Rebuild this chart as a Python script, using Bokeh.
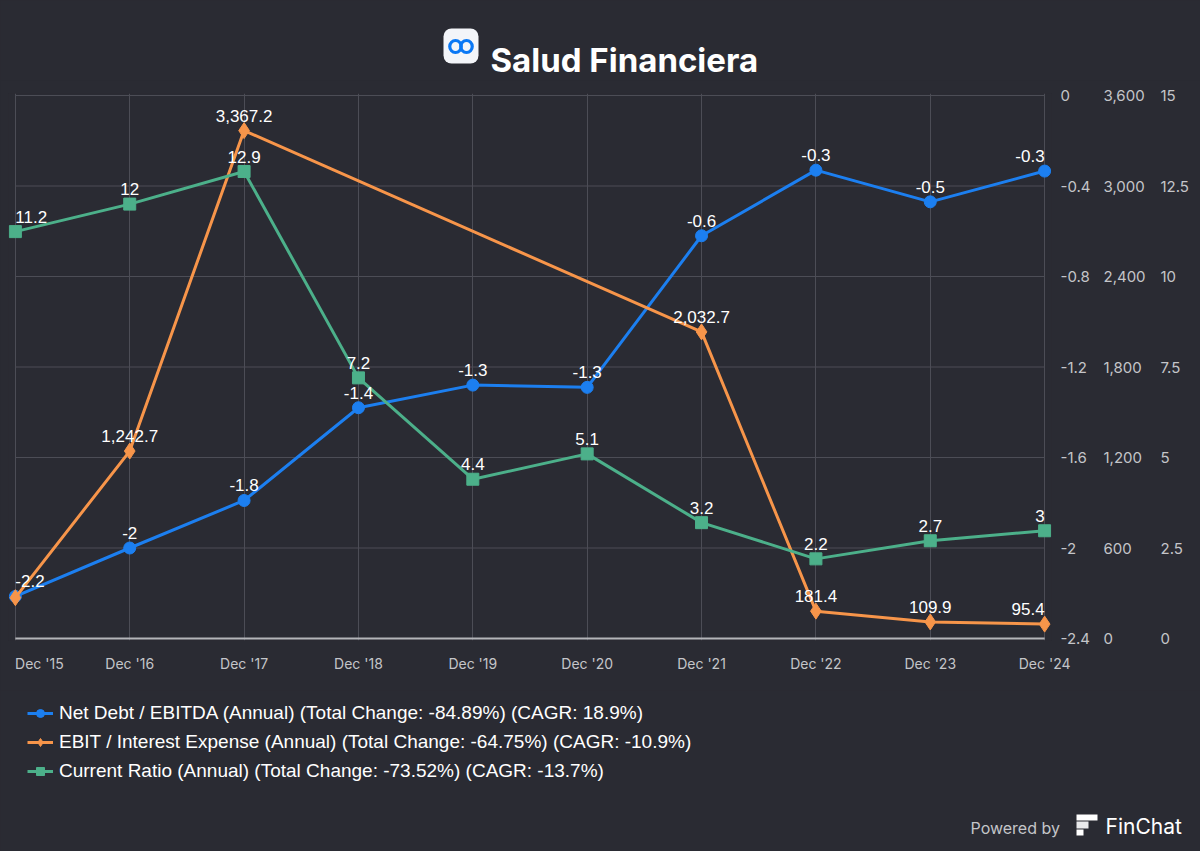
from bokeh.plotting import figure
from bokeh.layouts import column
from bokeh.models import (Range1d, LinearAxis, FixedTicker, Label, Legend, LegendItem,
                          ColumnDataSource, BoxAnnotation)
from bokeh.embed import file_html
from bokeh.resources import INLINE
from bokeh.core.properties import value

# ---------------- data ----------------
categories = ["Dec '15", "Dec '16", "Dec '17", "Dec '18", "Dec '19",
              "Dec '20", "Dec '21", "Dec '22", "Dec '23", "Dec '24"]
net_debt_ebitda = [-2.214, -2.0, -1.79, -1.38, -1.28, -1.29, -0.62, -0.33, -0.47, -0.334]
ebit_interest = [270.6, 1242.7, 3367.2, None, None, None, 2032.7, 181.4, 109.9, 95.4]
ebit_label_shown = [False, True, True, True, True, True, True, True, True, True]
current_ratio = [11.24, 12.0, 12.9, 7.2, 4.4, 5.1, 3.2, 2.2, 2.7, 2.976]

nd_ticks = [-2.4, -2.0, -1.6, -1.2, -0.8, -0.4, 0.0]
nd_tick_labels = ["-2.4", "-2", "-1.6", "-1.2", "-0.8", "-0.4", "0"]
ebit_ticks = [0, 600, 1200, 1800, 2400, 3000, 3600]
ebit_tick_labels = ["0", "600", "1,200", "1,800", "2,400", "3,000", "3,600"]
cr_ticks = [0, 2.5, 5, 7.5, 10, 12.5, 15]
cr_tick_labels = ["0", "2.5", "5", "7.5", "10", "12.5", "15"]

legend_labels = [
    "Net Debt / EBITDA (Annual) (Total Change: -84.89%) (CAGR: 18.9%)",
    "EBIT / Interest Expense (Annual) (Total Change: -64.75%) (CAGR: -10.9%)",
    "Current Ratio (Annual) (Total Change: -73.52%) (CAGR: -13.7%)",
]
title_text = "Salud Financiera"
footer_text = "Powered by"
brand_text = "FinChat"

# ---------------- style ----------------
BG = "#2a2b33"
GRID = "#4c4d56"
AXIS_LINE = "#b4b5b9"
TICK_TXT = "#c4c5c9"
BLUE = "#1c7ff0"
ORANGE = "#f7954a"
GREEN = "#4cb08a"
LABEL_FONT = "Liberation Sans"
UI_FONT = "Inter"
W = 1200
TOP_H, MAIN_H, BOT_H = 80, 610, 161
BG_STYLE = {"background-color": BG}

n = len(categories)
xs = list(range(n))
PADF = 2.0 / 543.0   # ~2px padding top and bottom of the plotting frame
XPAD = 0.06
FIRST_LABEL_SHIFT = 0.21   # keeps the first x label inside the page


def padded(lo, hi):
    span = hi - lo
    return Range1d(lo - span * PADF, hi + span * PADF)


def fmt(v):
    s = f"{v:,.1f}"
    if s.endswith(".0"):
        s = s[:-2]
    return s


def blank(height):
    f = figure(width=W, height=height, output_backend="svg", toolbar_location=None,
               x_range=Range1d(0, W), y_range=Range1d(height, 0),
               x_axis_type=None, y_axis_type=None, frame_align=False,
               background_fill_color=BG, border_fill_color=BG, styles=BG_STYLE,
               min_border_left=0, min_border_right=0, min_border_top=0, min_border_bottom=0)
    f.outline_line_color = None
    return f


# ---------------- header ----------------
top = blank(TOP_H)
top.add_layout(BoxAnnotation(left=443, right=478, top=28, bottom=63, fill_color="#f3f5f9",
                             fill_alpha=1, line_color=None, border_radius=8, level="underlay"))
top.ellipse(x=[455, 466], y=[46, 46], width=11.5, height=12, fill_color=None,
            line_color="#0a78f5", line_width=3.2)
top.add_layout(Label(x=490, y=59, text=title_text, text_align="left",
                     text_baseline="alphabetic", text_font=UI_FONT, text_font_size="33px",
                     text_font_style="bold", text_color="#ffffff"))

# ---------------- main chart ----------------
p = figure(width=W, height=MAIN_H, output_backend="svg", toolbar_location=None,
           x_range=Range1d(-XPAD, n - 1 + XPAD),
           y_range=padded(nd_ticks[0], nd_ticks[-1]),
           y_axis_location="right", frame_align=False,
           background_fill_color=BG, border_fill_color=BG, styles=BG_STYLE,
           min_border_left=8, min_border_right=149,
           min_border_top=13, min_border_bottom=50)
p.outline_line_color = None
p.extra_y_ranges = {
    "ebit": padded(ebit_ticks[0], ebit_ticks[-1]),
    "cr": padded(cr_ticks[0], cr_ticks[-1]),
}

p.ygrid.visible = False
p.xgrid.ticker = FixedTicker(ticks=xs)
p.xgrid.grid_line_color = GRID
p.xgrid.grid_line_width = 1

grid_colors = [AXIS_LINE] + [GRID] * (len(nd_ticks) - 1)
grid_widths = [2] + [1] * (len(nd_ticks) - 1)
p.segment(x0=[xs[0]] * len(nd_ticks), x1=[xs[-1]] * len(nd_ticks),
          y0=nd_ticks, y1=nd_ticks, line_color=grid_colors, line_width=grid_widths)

xa = p.xaxis[0]
label_ticks = [xs[0] + FIRST_LABEL_SHIFT] + xs[1:]
xa.ticker = FixedTicker(ticks=label_ticks)
xa.major_label_overrides = {t: c for t, c in zip(label_ticks, categories)}
xa.axis_line_color = None
xa.major_tick_line_color = None
xa.major_tick_out = 8
xa.major_tick_in = 0
xa.minor_tick_line_color = None
xa.major_label_standoff = 6
xa.major_label_text_font = UI_FONT
xa.major_label_text_font_size = "14px"
xa.major_label_text_color = TICK_TXT


def style_y(ax, ticks, labels, standoff):
    ax.ticker = FixedTicker(ticks=ticks)
    ax.major_label_overrides = {t: l for t, l in zip(ticks, labels)}
    ax.axis_line_color = None
    ax.major_tick_line_color = None
    ax.minor_tick_line_color = None
    ax.major_tick_out = 0
    ax.major_tick_in = 0
    ax.major_label_standoff = standoff
    ax.major_label_text_font = UI_FONT
    ax.major_label_text_font_size = "15px"
    ax.major_label_text_color = TICK_TXT


style_y(p.yaxis[0], nd_ticks, nd_tick_labels, 9)
ax2 = LinearAxis(y_range_name="ebit")
style_y(ax2, ebit_ticks, ebit_tick_labels, 10)
p.add_layout(ax2, "right")
ax3 = LinearAxis(y_range_name="cr")
style_y(ax3, cr_ticks, cr_tick_labels, 12)
p.add_layout(ax3, "right")

ex = [x for x, v in zip(xs, ebit_interest) if v is not None]
ey = [v for v in ebit_interest if v is not None]

line_kw = [dict(line_color=BLUE, line_width=3),
           dict(line_color=ORANGE, line_width=3),
           dict(line_color=GREEN, line_width=3)]
mark_kw = [dict(marker="circle", size=12, fill_color=BLUE, line_color=BLUE),
           dict(marker="diamond", size=16, fill_color=ORANGE, line_color=ORANGE),
           dict(marker="square", size=12, fill_color=GREEN, line_color=GREEN)]
series = [(xs, net_debt_ebitda, None), (ex, ey, "ebit"), (xs, current_ratio, "cr")]

for (sx, sy, rng), lk, mk in zip(series, line_kw, mark_kw):
    kw = {} if rng is None else {"y_range_name": rng}
    p.line(sx, sy, **lk, **kw)
    p.scatter(sx, sy, **mk, **kw)


def align_for(i):
    if i == 0:
        return "left"
    if i == n - 1:
        return "right"
    return "center"


def add_labels(xv, yv, shown, rng):
    src = ColumnDataSource(dict(
        x=[x for x, s in zip(xv, shown) if s],
        y=[y for y, s in zip(yv, shown) if s],
        t=[fmt(y) for y, s in zip(yv, shown) if s],
        a=[align_for(x) for x, s in zip(xv, shown) if s],
    ))
    kw = {} if rng is None else {"y_range_name": rng}
    p.text(x="x", y="y", text="t", text_align="a", source=src, text_baseline="alphabetic",
           y_offset=-15, text_font=value(LABEL_FONT), text_font_size="17px",
           text_color="#ffffff", **kw)


add_labels(xs, net_debt_ebitda, [True] * n, None)
add_labels(ex, ey, [s for v, s in zip(ebit_interest, ebit_label_shown) if v is not None], "ebit")
add_labels(xs, current_ratio, [True] * n, "cr")

# ---------------- legend + footer ----------------
bot = blank(BOT_H)
items = []
for (sx, sy, rng), lab, lk, mk in zip(series, legend_labels, line_kw, mark_kw):
    lr = bot.line(x=sx, y=sy, visible=False, **lk)
    sr = bot.scatter(x=sx, y=sy, visible=False, **mk)
    items.append(LegendItem(label=lab, renderers=[lr, sr]))
legend = Legend(items=items, location=(27, 69), orientation="vertical")
legend.click_policy = "none"
legend.inactive_fill_alpha = 0
legend.background_fill_alpha = 0
legend.border_line_color = None
legend.label_text_font = LABEL_FONT
legend.label_text_font_size = "19px"
legend.label_text_color = "#ffffff"
legend.glyph_width = 26
legend.glyph_height = 20
legend.label_height = 20
legend.spacing = 7
legend.padding = 5
legend.margin = 0
legend.label_standoff = 6
bot.add_layout(legend, "center")

bot.add_layout(Label(x=970, y=137, text=footer_text, text_align="left", text_baseline="middle",
                     text_font=UI_FONT, text_font_size="16px", text_color="#c4c5c9"))
bot.quad(left=[1076, 1076, 1076], right=[1097, 1088, 1083], top=[124, 131, 139],
         bottom=[130, 138, 145], fill_color=["#ffffff", "#e9e9ec", "#ffffff"], line_color=None)
bot.add_layout(Label(x=1105, y=136, text=brand_text, text_align="left", text_baseline="middle",
                     text_font=UI_FONT, text_font_size="21px", text_color="#ffffff"))

layout = column(top, p, bot, spacing=0, styles=BG_STYLE)
open("out.html", "w").write(file_html(layout, INLINE))
